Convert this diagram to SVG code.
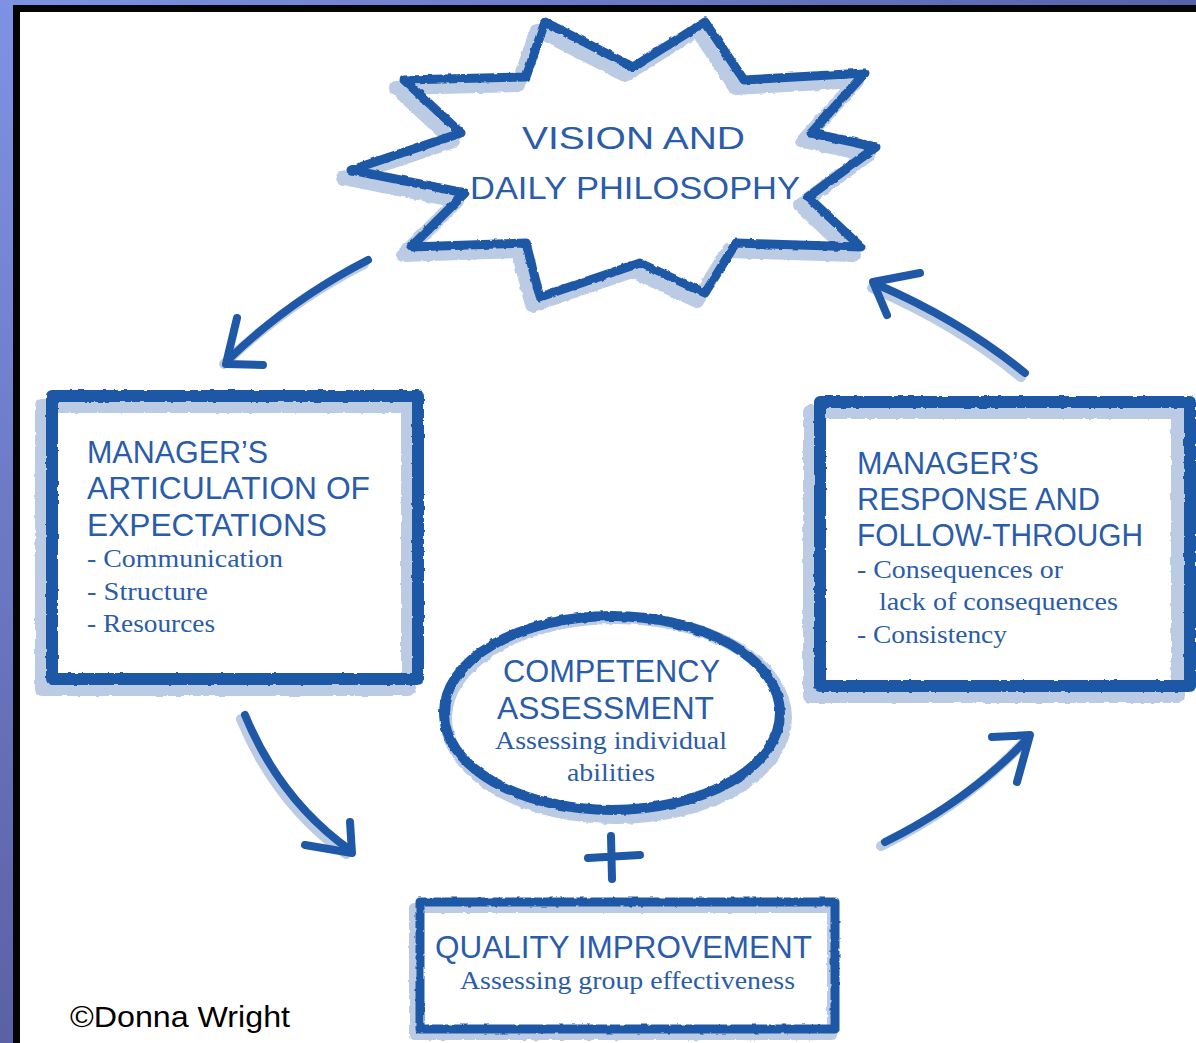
<svg xmlns="http://www.w3.org/2000/svg" width="1196" height="1043" viewBox="0 0 1196 1043">
<defs>
<linearGradient id="sideG" x1="0" y1="0" x2="0" y2="1">
<stop offset="0" stop-color="#7e92e4"/><stop offset="1" stop-color="#5a61a6"/>
</linearGradient>
<linearGradient id="topG" x1="0" y1="0" x2="1" y2="0">
<stop offset="0" stop-color="#7e92e4"/><stop offset="1" stop-color="#5762ab"/>
</linearGradient>
<filter id="rough" x="-5%" y="-5%" width="110%" height="110%">
<feTurbulence type="fractalNoise" baseFrequency="0.15" numOctaves="2" seed="3"/>
<feDisplacementMap in="SourceGraphic" scale="3" xChannelSelector="R" yChannelSelector="G"/>
</filter>
<style>
.dk{fill:none;stroke:#1f58a6;stroke-linejoin:round;stroke-linecap:round}
.lt{fill:none;stroke:#bccbe4;stroke-linejoin:round;stroke-linecap:round}
.hand{font-family:"Liberation Sans","DejaVu Sans",sans-serif;fill:#2a5ca9;font-size:31px}
.ser{font-family:"Liberation Serif","DejaVu Serif",serif;fill:#2a5ca9;font-size:25px}
</style>
</defs>
<rect width="1196" height="1043" fill="#ffffff"/>
<rect x="0" y="0" width="13" height="1043" fill="url(#sideG)"/>
<rect x="0" y="0" width="1196" height="5" fill="url(#topG)"/>
<rect x="13" y="5" width="7" height="1038" fill="#050505"/>
<rect x="13" y="5" width="1183" height="7" fill="#050505"/>

<g id="node-vision">
<polygon class="lt" stroke-width="14" filter="url(#rough)" transform="translate(-8,8)" points="545,22 633,67 705,22 744,80 865,73 811,133 876,147 808,197 861,247 736,243 705,293 640,263 540,297 526,243 411,247 465,193 351,170 461,133 404,80 526,77"/>
<polygon class="dk" stroke-width="9" filter="url(#rough)" points="545,22 633,67 705,22 744,80 865,73 811,133 876,147 808,197 861,247 736,243 705,293 640,263 540,297 526,243 411,247 465,193 351,170 461,133 404,80 526,77"/>
<text class="hand" x="522" y="149" font-size="40" textLength="223" lengthAdjust="spacingAndGlyphs">VISION AND</text>
<text class="hand" x="470" y="199" font-size="40" textLength="330" lengthAdjust="spacingAndGlyphs">DAILY PHILOSOPHY</text>
</g>

<g id="node-articulation">
<rect class="lt" x="42" y="406" width="366" height="283" stroke-width="14" filter="url(#rough)"/>
<rect class="dk" x="52" y="396" width="366" height="283" stroke-width="12" filter="url(#rough)"/>
<text class="hand" x="87" y="463" textLength="181" lengthAdjust="spacingAndGlyphs">MANAGER’S</text>
<text class="hand" x="87" y="499" textLength="283" lengthAdjust="spacingAndGlyphs">ARTICULATION OF</text>
<text class="hand" x="87" y="536" textLength="240" lengthAdjust="spacingAndGlyphs">EXPECTATIONS</text>
<text class="ser" x="87" y="567" textLength="196" lengthAdjust="spacingAndGlyphs">- Communication</text>
<text class="ser" x="87" y="600" textLength="121" lengthAdjust="spacingAndGlyphs">- Structure</text>
<text class="ser" x="87" y="632" textLength="128" lengthAdjust="spacingAndGlyphs">- Resources</text>
</g>

<g id="node-response">
<rect class="lt" x="810" y="412" width="368" height="284" stroke-width="14" filter="url(#rough)"/>
<rect class="dk" x="820" y="402" width="370" height="284" stroke-width="12" filter="url(#rough)"/>
<text class="hand" x="857" y="474" textLength="182" lengthAdjust="spacingAndGlyphs">MANAGER’S</text>
<text class="hand" x="857" y="510" textLength="243" lengthAdjust="spacingAndGlyphs">RESPONSE AND</text>
<text class="hand" x="857" y="546" textLength="286" lengthAdjust="spacingAndGlyphs">FOLLOW-THROUGH</text>
<text class="ser" x="857" y="578" textLength="206" lengthAdjust="spacingAndGlyphs">- Consequences or</text>
<text class="ser" x="879" y="610" textLength="239" lengthAdjust="spacingAndGlyphs">lack of consequences</text>
<text class="ser" x="857" y="643" textLength="150" lengthAdjust="spacingAndGlyphs">- Consistency</text>
</g>

<g id="node-competency">
<ellipse class="lt" cx="616" cy="718" rx="170" ry="100" stroke-width="12" filter="url(#rough)"/>
<ellipse class="dk" cx="612" cy="713" rx="168" ry="97" stroke-width="10" filter="url(#rough)"/>
<text class="hand" x="503" y="682" font-size="30" textLength="217" lengthAdjust="spacingAndGlyphs">COMPETENCY</text>
<text class="hand" x="497" y="719" font-size="30" textLength="217" lengthAdjust="spacingAndGlyphs">ASSESSMENT</text>
<text class="ser" x="495" y="749" textLength="232" lengthAdjust="spacingAndGlyphs">Assessing individual</text>
<text class="ser" x="567" y="781" textLength="88" lengthAdjust="spacingAndGlyphs">abilities</text>
</g>

<g id="node-plus">
<path class="dk" stroke-width="8" d="M611,836 L612,879 M588,858 L640,855"/>
</g>

<g id="node-quality">
<rect class="lt" x="414" y="908" width="418" height="127" stroke-width="10" filter="url(#rough)"/>
<rect class="dk" x="420" y="902" width="415" height="127" stroke-width="9" filter="url(#rough)"/>
<text class="hand" x="435" y="958" textLength="377" lengthAdjust="spacingAndGlyphs">QUALITY IMPROVEMENT</text>
<text class="ser" x="460" y="989" textLength="335" lengthAdjust="spacingAndGlyphs">Assessing group effectiveness</text>
</g>

<g id="connectors">
<g transform="translate(-4,4)">
<path class="lt" stroke-width="10" d="M368,260 Q290,300 228,360"/>
<path class="lt" stroke-width="10" d="M1025,373 Q960,320 876,284"/>
<path class="lt" stroke-width="10" d="M245,715 Q280,800 350,850"/>
<path class="lt" stroke-width="10" d="M885,842 Q970,800 1028,738"/>
</g>
<path class="dk" stroke-width="8" d="M368,260 Q290,300 228,360"/>
<path class="dk" stroke-width="8" d="M237,318 L226,364 L263,365"/>
<path class="dk" stroke-width="8" d="M1025,373 Q960,320 876,284"/>
<path class="dk" stroke-width="8" d="M920,273 L873,282 L887,315"/>
<path class="dk" stroke-width="8" d="M245,715 Q280,800 350,850"/>
<path class="dk" stroke-width="8" d="M350,822 L352,853 L305,845"/>
<path class="dk" stroke-width="8" d="M885,842 Q970,800 1028,738"/>
<path class="dk" stroke-width="8" d="M992,737 L1030,735 L1017,782"/>
</g>

<text x="70" y="1027" font-family="Liberation Sans, Arial, sans-serif" font-size="30" fill="#000000" textLength="220" lengthAdjust="spacingAndGlyphs">©Donna Wright</text>
</svg>
